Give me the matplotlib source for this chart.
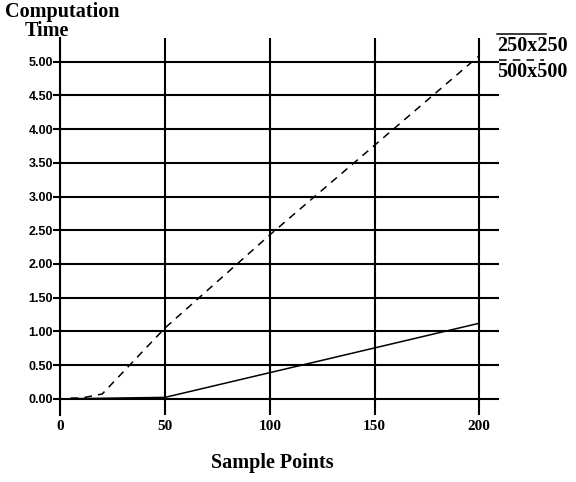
import matplotlib
matplotlib.use("Agg")
import matplotlib.pyplot as plt
from matplotlib.lines import Line2D

# Data
x_250 = [5, 50, 200]
y_250 = [0.0, 0.02, 1.12]
x_500 = [5, 10, 20, 50, 100, 150, 200]
y_500 = [0.01, 0.01, 0.07, 1.05, 2.43, 3.76, 5.09]
series_names = ["250x250", "500x500"]
x_ticks = [0, 50, 100, 150, 200]
y_ticks = [0.0, 0.5, 1.0, 1.5, 2.0, 2.5, 3.0, 3.5, 4.0, 4.5, 5.0]
y_tick_labels = ["%.2f" % v for v in y_ticks]

W, H = 576, 482
fig = plt.figure(figsize=(W / 100, H / 100), dpi=100)
ax = fig.add_axes([60.3 / W, (H - 414.9) / H, 438.9 / W, 376.8 / H])
ax.set_xlim(0, 209.5)
ax.set_ylim(-0.24, 5.35)

serif = "Liberation Serif"
sans = "Liberation Sans"

for s in ["top", "right", "bottom"]:
    ax.spines[s].set_visible(False)
ax.spines["left"].set_linewidth(1.5)
ax.spines["left"].set_color("black")

ax.set_xticks(x_ticks)
ax.set_xticklabels([str(v) for v in x_ticks], fontfamily=serif, fontweight="bold", fontsize=11)
ax.set_yticks(y_ticks)
ax.set_yticklabels(y_tick_labels, fontfamily=sans, fontweight="bold", fontsize=9)
ax.tick_params(axis="x", length=0, pad=4)
ax.tick_params(axis="y", length=5, width=1.5, direction="out", pad=0.3)
ax.grid(True, color="black", linewidth=1.5)
ax.set_axisbelow(True)

ax.plot(x_250, y_250, color="black", linewidth=1.1, solid_joinstyle="miter")
ax.plot(x_500, y_500, color="black", linewidth=1.1, dashes=(5, 4))

# Axis titles
fig.text(5 / W, 1 - 12 / H, "Computation", fontfamily=serif, fontweight="bold",
         fontsize=14.5, ha="left", va="center")
fig.text(25 / W, 1 - 31 / H, "Time", fontfamily=serif, fontweight="bold",
         fontsize=14.5, ha="left", va="center")
fig.text(272 / W, 1 - 463 / H, "Sample Points", fontfamily=serif, fontweight="bold",
         fontsize=14.5, ha="center", va="center")

# Legend (manual, outside axes)
fig.add_artist(Line2D([497 / W, 546 / W], [1 - 34 / H, 1 - 34 / H], color="black",
                      linewidth=1.1, transform=fig.transFigure))
fig.text(497 / W, 1 - 46 / H, series_names[0], fontfamily=serif, fontweight="bold",
         fontsize=14.5, ha="left", va="center")
fig.add_artist(Line2D([499 / W, 544 / W], [1 - 60 / H, 1 - 60 / H], color="black",
                      linewidth=1.1, dashes=(5, 4), transform=fig.transFigure))
fig.text(497 / W, 1 - 72 / H, series_names[1], fontfamily=serif, fontweight="bold",
         fontsize=14.5, ha="left", va="center")

fig.savefig("out.png", dpi=100)
